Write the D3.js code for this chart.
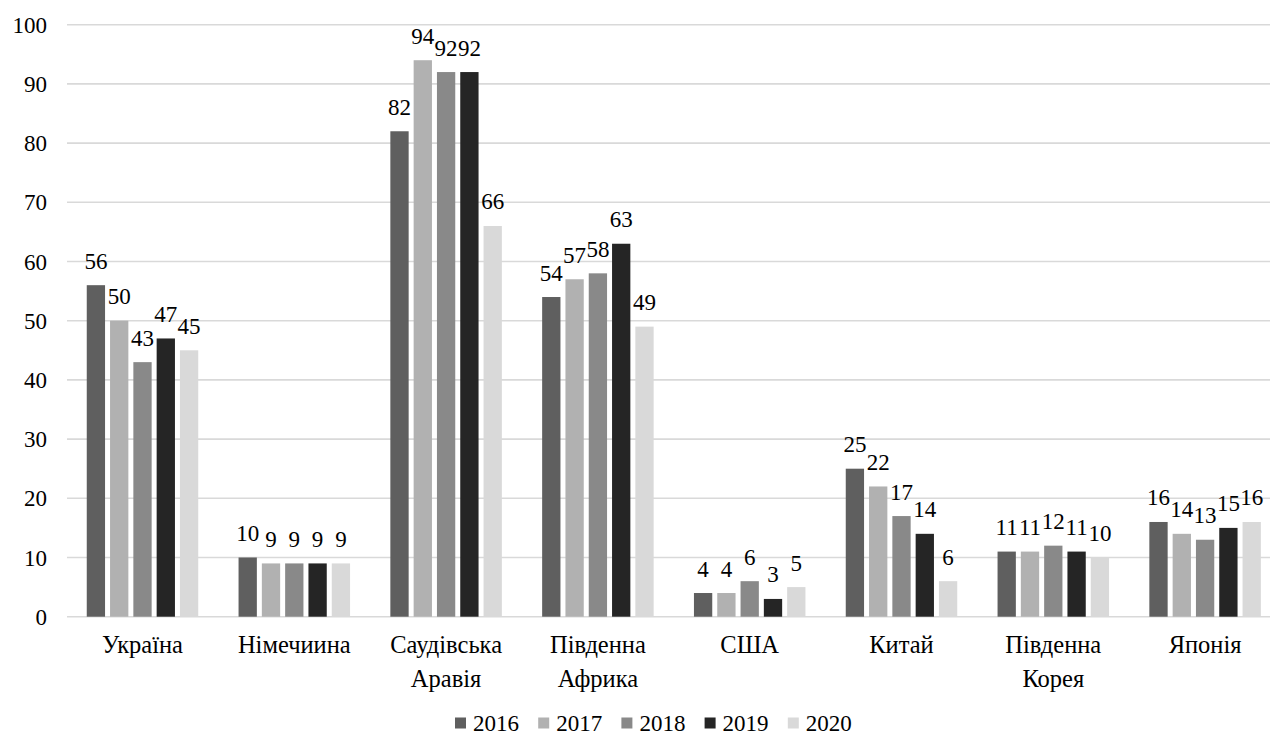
<!DOCTYPE html>
<html>
<head>
<meta charset="utf-8">
<script src="https://cdn.jsdelivr.net/npm/d3@7"></script>
<style>
  html, body { margin: 0; padding: 0; background: #ffffff; }
  svg { display: block; }
</style>
</head>
<body>
<svg id="chart" width="1270" height="735"></svg>
<script>
// Countries (two-line names split with "\n")
const categories = ["Україна", "Німечиина", "Саудівська\nАравія", "Південна\nАфрика", "США", "Китай", "Південна\nКорея", "Японія"];
const years = ["2016", "2017", "2018", "2019", "2020"];

// Values per year, in category order
const v2016 = [56, 10, 82, 54, 4, 25, 11, 16];
const v2017 = [50, 9, 94, 57, 4, 22, 11, 14];
const v2018 = [43, 9, 92, 58, 6, 17, 12, 13];
const v2019 = [47, 9, 92, 63, 3, 14, 11, 15];
const v2020 = [45, 9, 66, 49, 5, 6, 10, 16];
const seriesValues = [v2016, v2017, v2018, v2019, v2020];

const yTicks = [0, 10, 20, 30, 40, 50, 60, 70, 80, 90, 100];
const colors = ["#5f5f5f", "#b1b1b1", "#898989", "#252525", "#d9d9d9"];

const FONT = "Liberation Serif";
const svg = d3.select("#chart");
const W = 1270;

const y = d3.scaleLinear().domain([0, 100]).range([616.7, 24.7]);

const x = d3.scaleBand()
  .domain(categories)
  .range([66.6, 66.6 + 151.8 * categories.length])
  .padding(0);

const half = 55.75;
const xs = d3.scaleBand()
  .domain(years)
  .range([x.bandwidth() / 2 - half, x.bandwidth() / 2 + half])
  .paddingInner(0.2146)
  .paddingOuter(0);

// Horizontal gridlines
svg.append("g")
  .selectAll("line")
  .data(yTicks)
  .join("line")
  .attr("x1", 67)
  .attr("x2", W)
  .attr("y1", d => y(d))
  .attr("y2", d => y(d))
  .attr("stroke", "#d9d9d9")
  .attr("stroke-width", 1.6);

// Y axis labels
svg.append("g")
  .selectAll("text")
  .data(yTicks)
  .join("text")
  .attr("x", 47)
  .attr("y", d => y(d) + 8)
  .attr("text-anchor", "end")
  .attr("font-family", FONT)
  .attr("font-size", 23)
  .attr("fill", "#000")
  .text(d => d);

// Bars grouped by country
const groups = svg.append("g")
  .selectAll("g")
  .data(categories)
  .join("g")
  .attr("transform", c => `translate(${x(c)},0)`);

groups.each(function (c, ci) {
  const g = d3.select(this);
  const rows = years.map((yr, si) => ({ yr, si, v: seriesValues[si][ci] }));
  g.selectAll("rect")
    .data(rows)
    .join("rect")
    .attr("x", d => xs(d.yr))
    .attr("y", d => y(d.v))
    .attr("width", xs.bandwidth())
    .attr("height", d => y(0) - y(d.v))
    .attr("fill", d => colors[d.si]);

  g.selectAll("text.val")
    .data(rows)
    .join("text")
    .attr("class", "val")
    .attr("x", d => xs(d.yr) + xs.bandwidth() / 2)
    .attr("y", d => y(d.v) - 16.5)
    .attr("text-anchor", "middle")
    .attr("font-family", FONT)
    .attr("font-size", 23)
    .attr("fill", "#000")
    .text(d => d.v);
});

// Category labels
const catLabels = svg.append("g")
  .selectAll("text")
  .data(categories)
  .join("text")
  .attr("text-anchor", "middle")
  .attr("font-family", FONT)
  .attr("font-size", 24.5)
  .attr("fill", "#000");

catLabels.each(function (c) {
  const t = d3.select(this);
  const cx = x(c) + x.bandwidth() / 2;
  c.split("\n").forEach((line, i) => {
    t.append("tspan")
      .attr("x", cx)
      .attr("y", 653 + i * 33.5)
      .text(line);
  });
});

// Legend
const legend = svg.append("g");
const legendX0 = 455, legendStep = 83.2;
years.forEach((yr, i) => {
  const lx = legendX0 + i * legendStep;
  legend.append("rect")
    .attr("x", lx)
    .attr("y", 717.5)
    .attr("width", 11)
    .attr("height", 11)
    .attr("fill", colors[i]);
  legend.append("text")
    .attr("x", lx + 18)
    .attr("y", 730.5)
    .attr("font-family", FONT)
    .attr("font-size", 23)
    .attr("fill", "#000")
    .text(yr);
});
</script>
</body>
</html>
